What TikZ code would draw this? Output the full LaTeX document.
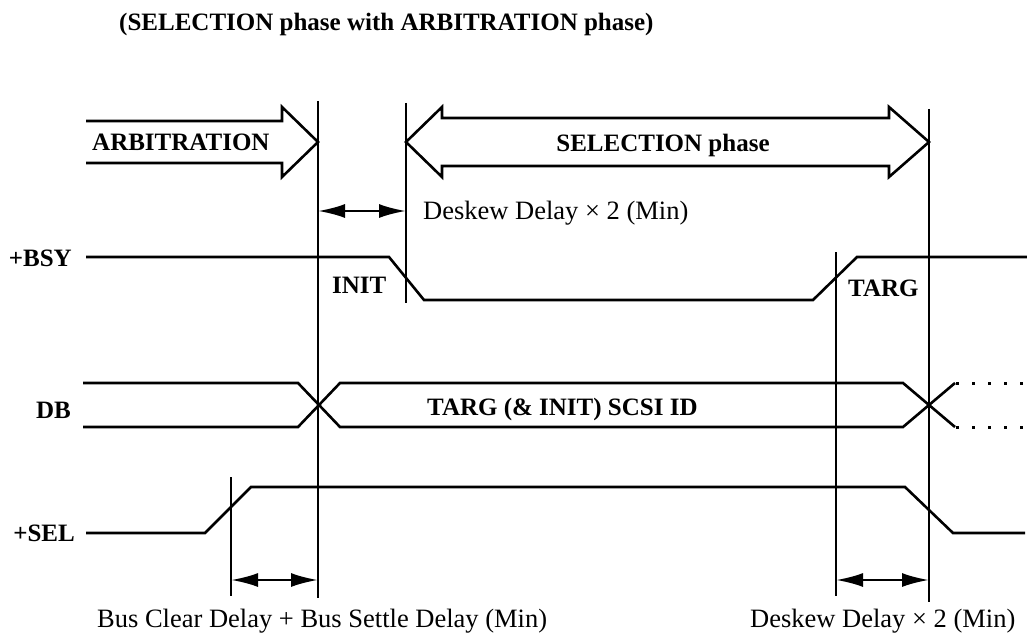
\documentclass[tikz,border=0pt]{standalone}
\usepackage{fontspec}
\setmainfont{Liberation Serif}
\usetikzlibrary{arrows.meta}

\begin{document}
\begin{tikzpicture}[
  x=1pt,
  y=-1pt,
  sig/.style={line width=2.6pt, line join=miter},
  guide/.style={line width=2.6pt},
  dim/.style={
    {Latex[length=27pt,width=14pt]}-{Latex[length=27pt,width=14pt]},
    line width=2.4pt
  },
  phasearrow/.style={line width=2.6pt, line join=miter},
  dots/.style={line width=3pt, dash pattern=on 3pt off 13pt},
  lbl/.style={inner sep=0pt, anchor=base west, font=\fontsize{25}{30}\selectfont\bfseries},
  note/.style={inner sep=0pt, anchor=base west, font=\fontsize{26.5}{32}\selectfont}
]
\useasboundingbox (0,0) rectangle (1027,639);

% title
\node[lbl] (title) at (119,31) {(SELECTION phase with ARBITRATION phase)};

% guide lines
\coordinate (g1a) at (318,101); \coordinate (g1b) at (318,598);
\coordinate (g2a) at (406,103); \coordinate (g2b) at (406,303);
\coordinate (g3a) at (929,109); \coordinate (g3b) at (929,602);
\coordinate (g4a) at (836,252); \coordinate (g4b) at (836,596);
\coordinate (g5a) at (231,477); \coordinate (g5b) at (231,596);
\foreach \g in {1,...,5}
  \draw[guide] (g\g a) -- (g\g b);

% phase arrows
\draw[phasearrow] (86,121) -- (282,121) -- (282,107) -- (318,142)
  -- (282,177) -- (282,163) -- (86,163);
\node[lbl] (arb) at (92,151) {ARBITRATION};
\draw[phasearrow] (406,142) -- (442,107) -- (442,118) -- (889,118)
  -- (889,107) -- (929,142) -- (889,177) -- (889,166) -- (442,166)
  -- (442,177) -- cycle;
\node[lbl, anchor=base] (sel) at (663,152) {SELECTION phase};

% delay markers
\coordinate (d1a) at (318,211); \coordinate (d1b) at (406,211);
\draw[dim] (d1a) -- (d1b);
\node[note] (desk1) at (423,219) {Deskew Delay × 2 (Min)};

\coordinate (d2a) at (231,580); \coordinate (d2b) at (318,580);
\draw[dim] (d2a) -- (d2b);
\node[note] (bus) at (97,627) {Bus Clear Delay + Bus Settle Delay (Min)};

\coordinate (d3a) at (836,580); \coordinate (d3b) at (929,580);
\draw[dim] (d3a) -- (d3b);
\node[note] (desk2) at (750,627) {Deskew Delay × 2 (Min)};

% +BSY
\node[lbl, anchor=base east] (bsy) at (72,266) {+BSY};
\draw[sig] (86,257) -- (389,257) -- (424,300) -- (813,300) -- (857,257) -- (1027,257);
\node[lbl] (init) at (332,293) {INIT};
\node[lbl] (targ) at (848,296) {TARG};

% DB
\node[lbl, anchor=base east] (db) at (71,418) {DB};
\draw[sig] (83,383) -- (298,383) -- (340,427) -- (903,427) -- (955,383);
\draw[sig] (83,427) -- (298,427) -- (340,383) -- (903,383) -- (955,427);
\draw[dots] (956,383) -- (1027,383);
\draw[dots] (956,427) -- (1027,427);
\node[lbl] (dbid) at (427,415) {TARG (\& INIT) SCSI ID};

% +SEL
\node[lbl, anchor=base east] (selsig) at (75,541) {+SEL};
\draw[sig] (86,533) -- (205,533) -- (251,487) -- (905,487) -- (953,533) -- (1025,533);
\end{tikzpicture}
\end{document}
